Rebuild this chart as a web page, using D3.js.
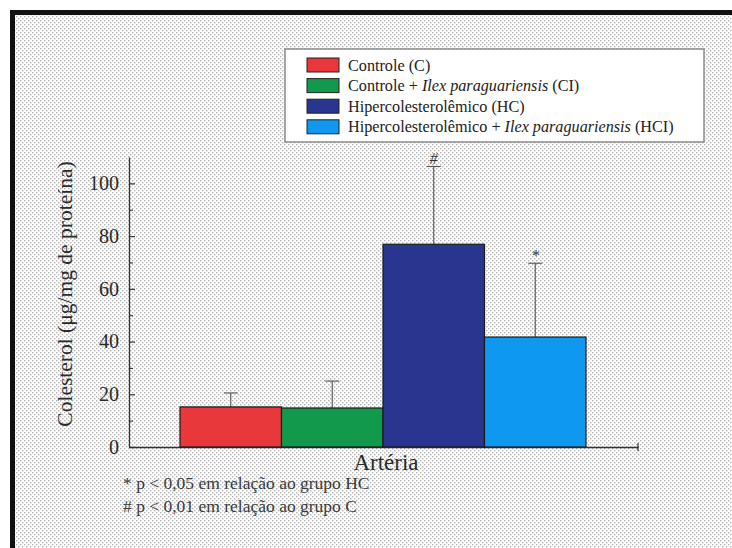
<!DOCTYPE html>
<html>
<head>
<meta charset="utf-8">
<script src="https://cdn.jsdelivr.net/npm/d3@7"></script>
<style>
  body { margin: 0; background: #fff; }
  svg { display: block; }
  text { font-family: "Liberation Serif", "Times New Roman", serif; }
</style>
</head>
<body>
<svg id="chart"></svg>
<script>
// data
const groups = ["C", "CI", "HC", "HCI"];
const means = [15.2, 14.8, 76.9, 41.7];
const errUp = [5.3, 10.2, 29.5, 28.0];
const sigMarks = ["", "", "#", "*"];
const colors = ["#e8383b", "#13994b", "#28368f", "#0e98ef"];
const legendLabels = [
  ["Controle (C)", "", ""],
  ["Controle + ", "Ilex paraguariensis", " (CI)"],
  ["Hipercolesterolêmico (HC)", "", ""],
  ["Hipercolesterolêmico + ", "Ilex paraguariensis", " (HCI)"]
];
const yMajor = [0, 20, 40, 60, 80, 100];
const yMinor = [10, 30, 50, 70, 90];
const yLabel = "Colesterol (μg/mg de proteína)";
const xLabel = "Artéria";
const notes = ["* p < 0,05 em relação ao grupo HC", "# p < 0,01 em relação ao grupo C"];

const W = 732, H = 548;
const svg = d3.select("#chart").attr("width", W).attr("height", H);

// halftone-ish dotted background
const defs = svg.append("defs");
const pat = defs.append("pattern")
  .attr("id", "dots")
  .attr("width", 4).attr("height", 4)
  .attr("patternUnits", "userSpaceOnUse");
pat.append("rect").attr("width", 4).attr("height", 4).attr("fill", "#fff");
pat.append("rect").attr("x", 0).attr("y", 0).attr("width", 1.4).attr("height", 1.4).attr("fill", "#b4b4b4");
pat.append("rect").attr("x", 2).attr("y", 2).attr("width", 1.4).attr("height", 1.4).attr("fill", "#b4b4b4");

svg.append("rect").attr("width", W).attr("height", H).attr("fill", "#fff");
svg.append("rect")
  .attr("x", 12.5).attr("y", 12.5)
  .attr("width", W + 20).attr("height", H + 20)
  .attr("fill", "url(#dots)")
  .attr("stroke", "#111").attr("stroke-width", 5);

// scales
const y = d3.scaleLinear().domain([0, 110]).range([447, 157]);
const xAxisScale = d3.scaleLinear().domain([0, 1]).range([129, 638]);
const x = d3.scaleBand().domain(groups).range([180, 586]).padding(0);

// y axis: major ticks inward, labels outside
const yAxis = svg.append("g")
  .attr("transform", `translate(${xAxisScale.range()[0]},0)`)
  .call(d3.axisLeft(y).tickValues(yMajor).tickSizeInner(-6).tickSizeOuter(0).tickPadding(10));
yAxis.select(".domain").attr("stroke", "#333").attr("stroke-width", 1.3);
yAxis.selectAll(".tick line").attr("stroke", "#333").attr("stroke-width", 1.2);
yAxis.selectAll(".tick text")
  .attr("fill", "#2a2a2a")
  .style("font-size", "20px")
  .style("font-family", "'Liberation Serif', serif");

const yMinorAxis = svg.append("g")
  .attr("transform", `translate(${xAxisScale.range()[0]},0)`)
  .call(d3.axisLeft(y).tickValues(yMinor).tickSizeInner(-4).tickSizeOuter(0).tickFormat(""));
yMinorAxis.select(".domain").remove();
yMinorAxis.selectAll(".tick line").attr("stroke", "#333").attr("stroke-width", 1.1);

// x axis
const xAxis = svg.append("g")
  .attr("transform", `translate(0,${y(0)})`)
  .call(d3.axisBottom(xAxisScale).tickValues([]).tickSizeOuter(0));
xAxis.select(".domain").attr("stroke", "#333").attr("stroke-width", 1.3);
svg.append("line")
  .attr("x1", xAxisScale(1)).attr("x2", xAxisScale(1))
  .attr("y1", y(0) - 4).attr("y2", y(0) + 4)
  .attr("stroke", "#333").attr("stroke-width", 1.2);

// error bars (drawn first so bars cover the lower half)
const bars = groups.map((g, i) => ({ g, mean: means[i], err: errUp[i], mark: sigMarks[i], color: colors[i] }));

const eb = svg.append("g").selectAll("g").data(bars).enter().append("g");
eb.append("line")
  .attr("x1", d => x(d.g) + x.bandwidth() / 2)
  .attr("x2", d => x(d.g) + x.bandwidth() / 2)
  .attr("y1", d => y(d.mean))
  .attr("y2", d => y(d.mean + d.err))
  .attr("stroke", "#555").attr("stroke-width", 1.1);
eb.append("line")
  .attr("x1", d => x(d.g) + x.bandwidth() / 2 - 7)
  .attr("x2", d => x(d.g) + x.bandwidth() / 2 + 7)
  .attr("y1", d => y(d.mean + d.err))
  .attr("y2", d => y(d.mean + d.err))
  .attr("stroke", "#555").attr("stroke-width", 1.1);
eb.append("text")
  .attr("x", d => x(d.g) + x.bandwidth() / 2)
  .attr("y", d => y(d.mean + d.err) - 2)
  .attr("text-anchor", "middle")
  .attr("fill", "#333")
  .style("font-size", "16px")
  .style("font-style", "italic")
  .text(d => d.mark);

svg.append("g").selectAll("rect").data(bars).enter().append("rect")
  .attr("x", d => x(d.g))
  .attr("y", d => y(d.mean))
  .attr("width", x.bandwidth())
  .attr("height", d => y(0) - y(d.mean))
  .attr("fill", d => d.color)
  .attr("stroke", "#1a1a1a").attr("stroke-width", 1.2);

// axis titles
svg.append("text")
  .attr("transform", `translate(72,294) rotate(-90)`)
  .attr("text-anchor", "middle")
  .attr("fill", "#2a2a2a")
  .style("font-size", "21.5px")
  .text(yLabel);

svg.append("text")
  .attr("x", 386).attr("y", 470)
  .attr("text-anchor", "middle")
  .attr("fill", "#2a2a2a")
  .style("font-size", "23px")
  .text(xLabel);

svg.append("g").selectAll("text").data(notes).enter().append("text")
  .attr("x", 123)
  .attr("y", (d, i) => 489 + i * 23)
  .attr("fill", "#3a3a3a")
  .style("font-size", "17.5px")
  .text(d => d);

// legend
const lg = svg.append("g");
lg.append("rect")
  .attr("x", 285).attr("y", 49).attr("width", 419).attr("height", 93)
  .attr("fill", "#fff").attr("stroke", "#8a8a8a").attr("stroke-width", 1.5);
const rows = lg.selectAll("g.row").data(legendLabels).enter().append("g")
  .attr("class", "row")
  .attr("transform", (d, i) => `translate(307,${58 + i * 20.6})`);
rows.append("rect")
  .attr("width", 32).attr("height", 14)
  .attr("fill", (d, i) => colors[i])
  .attr("stroke", "#222").attr("stroke-width", 1);
const lt = rows.append("text")
  .attr("x", 41).attr("y", 12.5)
  .attr("fill", "#222")
  .style("font-size", "16.2px");
lt.append("tspan").text(d => d[0]);
lt.append("tspan").style("font-style", "italic").text(d => d[1]);
lt.append("tspan").text(d => d[2]);
</script>
</body>
</html>
